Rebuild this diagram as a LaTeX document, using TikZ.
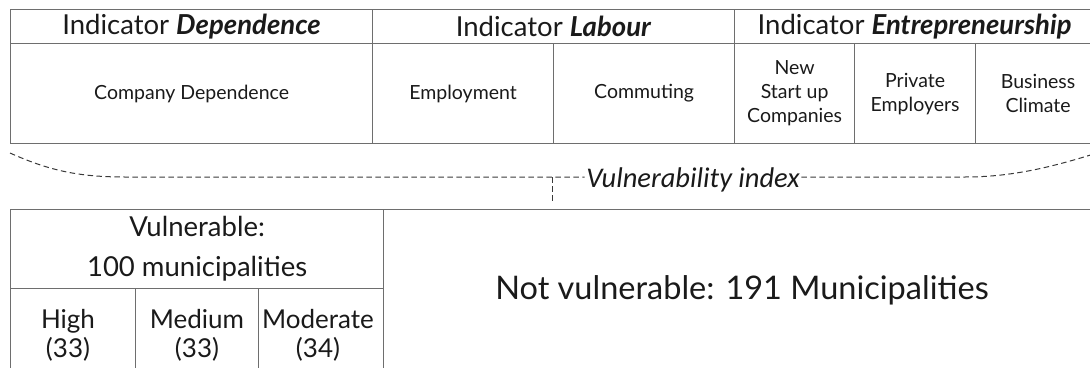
\documentclass[tikz,border=0pt]{standalone}
\usepackage{fontspec}
\setmainfont{Lato}
\newfontfamily\idxfont{Carlito}
\definecolor{rule}{HTML}{6E6E6E}
\definecolor{ink}{HTML}{1A1A1A}
\definecolor{dashink}{HTML}{3A3A3A}
\begin{document}
\begin{tikzpicture}[x=1pt,y=-1pt,
  cell/.style={draw=rule, line width=1.2pt, rectangle, inner sep=0pt, align=center, text=ink, anchor=north west},
  headtxt/.style={font=\fontsize{27.5}{30}\selectfont},
  subtxt/.style={font=\fontsize{19.5}{24}\selectfont},
  bigtxt/.style={font=\fontsize{27.5}{40}\selectfont},
  leveltxt/.style={font=\fontsize{26}{29}\selectfont, text=ink, align=center},
  idxline/.style={draw=dashink, line width=1pt, dash pattern=on 5.5pt off 3.5pt}]
\useasboundingbox (0,0) rectangle (1090,367);
\clip (0,0) rectangle (1090,367);

% indicator headers
\node[cell, headtxt, minimum width=362, minimum height=34] (hdep) at (10,9) {Indicator \textbf{\textit{Dependence}}};
\node[cell, headtxt, minimum width=362, minimum height=34] (hlab) at (372,9) {Indicator \textbf{\textit{Labour}}};
\node[cell, headtxt, minimum width=366, minimum height=34] (hent) at (734,9) {\hspace*{-6pt}Indicator \textbf{\textit{Entrepreneurship}}};

% component variables
\node[cell, subtxt, minimum width=362, minimum height=100] (cdep) at (10,43) {Company Dependence};
\node[cell, subtxt, minimum width=181, minimum height=100] (cemp) at (372,43) {Employment};
\node[cell, subtxt, minimum width=181, minimum height=100] (ccom) at (553,43) {Commuting};
\node[cell, subtxt, minimum width=120, minimum height=100] (cnew) at (734,43) {New\\Start up\\Companies};
\node[cell, subtxt, minimum width=121, minimum height=100] (cpri) at (854,43) {Private\\Employers};
\node[cell, subtxt, minimum width=125, minimum height=100] (cbus) at (975,43) {Business\\Climate};

% combined index with its brace-like dashed curve
\node[text=ink, font=\idxfont\itshape\fontsize{28.5}{30}\selectfont, inner sep=1.5pt, anchor=base] (idx) at (693,187) {Vulnerability index};
\coordinate (lend) at (10,153);
\coordinate (rend) at (1100,152);
\coordinate (split) at (552,177);
\coordinate (down) at (552,202);
\draw[idxline] (lend) .. controls (50,171) and (80,177) .. (125,177) -- (idx.west |- split);
\draw[idxline] (idx.east |- split) -- (965,177) .. controls (1010,177) and (1050,168) .. (rend);
\draw[idxline] (split) -- (down);

% classification result
\node[cell, bigtxt, minimum width=373, minimum height=79] (vul) at (10,209) {Vulnerable:\\100 municipalities};
\node[cell, minimum width=125, minimum height=200] (high) at (10,288) {};
\node[cell, minimum width=123, minimum height=200] (med) at (135,288) {};
\node[cell, minimum width=125, minimum height=200] (mod) at (258,288) {};
\node[leveltxt] (hightxt) at (68,335) {High\\(33)};
\node[leveltxt] (medtxt) at (197,335) {Medium\\(33)};
\node[leveltxt] (modtxt) at (318,335) {Moderate\\(34)};
\node[cell, minimum width=720, minimum height=200] (notv) at (383,209) {};
\node[text=ink, font=\fontsize{32.5}{36}\selectfont, anchor=base] (notvtxt) at (742,299) {Not vulnerable: 191 Municipalities};
\end{tikzpicture}
\end{document}
